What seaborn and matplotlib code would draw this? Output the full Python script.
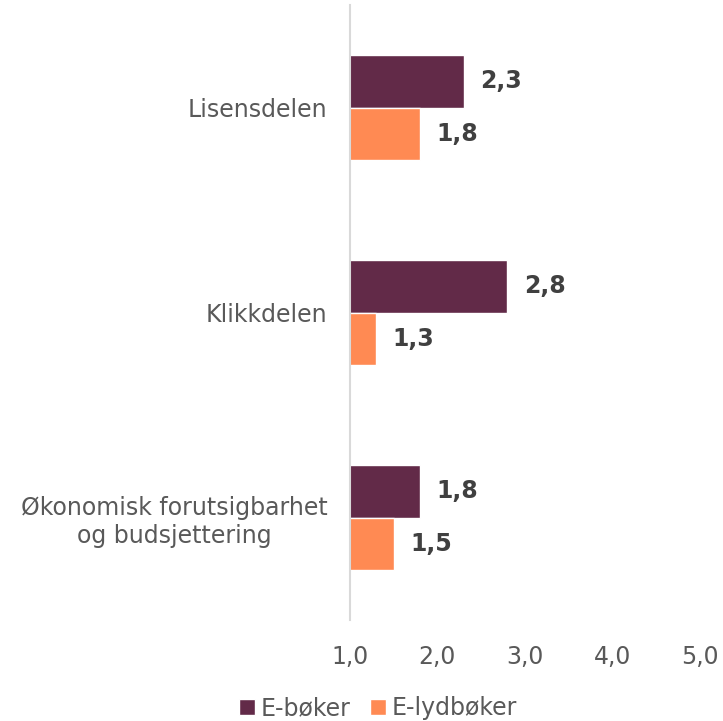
import pandas as pd
import matplotlib.pyplot as plt
import seaborn as sns

# Data
categories = ["Lisensdelen", "Klikkdelen", "Økonomisk forutsigbarhet\nog budsjettering"]
e_boker = [2.3, 2.8, 1.8]
e_lydboker = [1.8, 1.3, 1.5]
series = ["E-bøker", "E-lydbøker"]
x_ticks = [1.0, 2.0, 3.0, 4.0, 5.0]

df = pd.DataFrame({
    "kategori": categories * 2,
    "verdi": e_boker + e_lydboker,
    "serie": [series[0]] * 3 + [series[1]] * 3,
})

sns.set_style("white")
plt.rcParams["font.family"] = ["DejaVu Sans"]
text_grey = "#595959"
colors = ["#622A48", "#FF8A53"]

fig = plt.figure(figsize=(7.23, 7.21), dpi=100)
ax = fig.add_axes([0.484, 0.14, 0.484, 0.853])

sns.barplot(data=df, y="kategori", x="verdi", hue="serie", palette=colors,
            orient="h", width=0.51, saturation=1, ax=ax)

ax.set_xlim(1, 5)
ax.set_ylim(2.5, -0.5)
ax.set_xticks(x_ticks)
ax.set_xticklabels([f"{t:.1f}".replace(".", ",") for t in x_ticks])
ax.set_xlabel("")
ax.set_ylabel("")

for s in ["top", "right", "bottom"]:
    ax.spines[s].set_visible(False)
ax.spines["left"].set_color("#d9d9d9")
ax.spines["left"].set_linewidth(1.5)

ax.tick_params(axis="x", length=0, labelsize=17, labelcolor=text_grey, pad=18)
ax.tick_params(axis="y", length=0, labelsize=17, labelcolor=text_grey, pad=16)
for lbl in ax.get_yticklabels():
    lbl.set_multialignment("center")

for cont in ax.containers:
    for bar in cont:
        w = bar.get_width()
        ax.annotate(f"{w:.1f}".replace(".", ","),
                    (w, bar.get_y() + bar.get_height() / 2),
                    xytext=(12, 0), textcoords="offset points",
                    ha="left", va="center", fontsize=17, fontweight="bold",
                    color="#404040")

handles, labels = ax.get_legend_handles_labels()
ax.legend(handles, labels, loc="lower center", ncol=2, frameon=False,
          fontsize=17, labelcolor=text_grey, handlelength=0.65, handleheight=0.65,
          handletextpad=0.25, columnspacing=0.85, borderaxespad=0.0,
          bbox_to_anchor=(0.523, -0.012), bbox_transform=fig.transFigure)

fig.savefig("out.png", dpi=100)
